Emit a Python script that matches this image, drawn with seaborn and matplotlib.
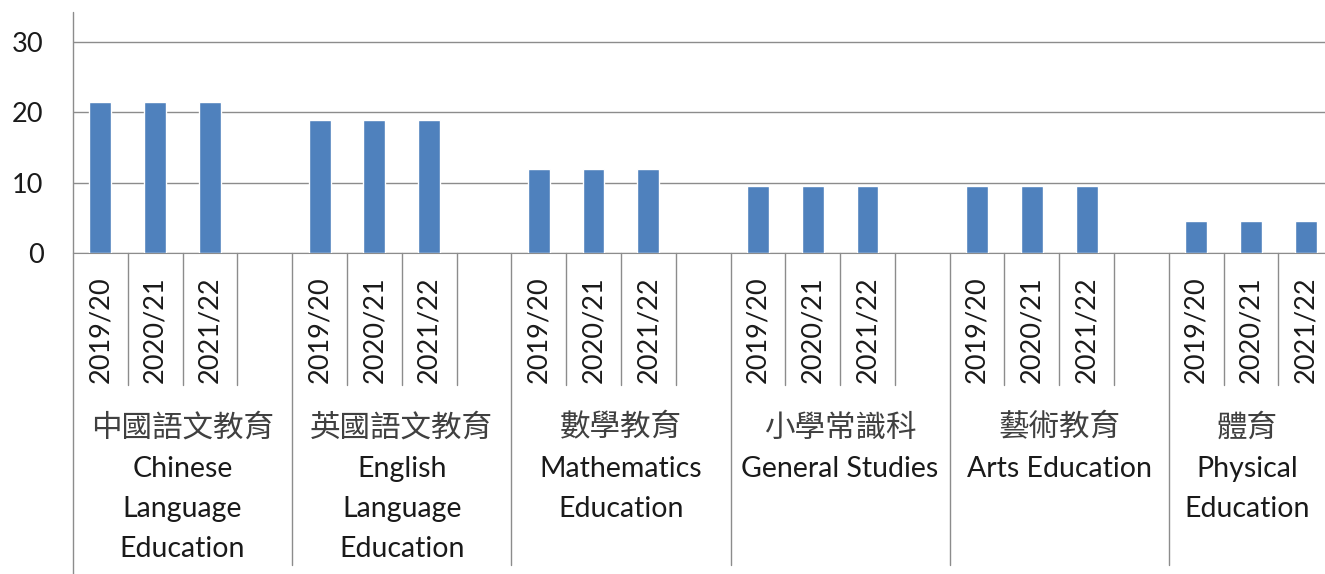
import matplotlib
matplotlib.use("Agg")
import matplotlib.pyplot as plt
from matplotlib.lines import Line2D
import seaborn as sns
import pandas as pd

# ---- data ----
subjects_zh = ["中國語文教育", "英國語文教育", "數學教育", "小學常識科", "藝術教育", "體育"]
subjects_en = ["Chinese\nLanguage\nEducation", "English\nLanguage\nEducation",
               "Mathematics\nEducation", "General Studies", "Arts Education",
               "Physical\nEducation"]
years = ["2019/20", "2020/21", "2021/22"]
values_2019_20 = [21.5, 19.0, 12.0, 9.5, 9.5, 4.6]
values_2020_21 = [21.5, 19.0, 12.0, 9.5, 9.5, 4.6]
values_2021_22 = [21.5, 19.0, 12.0, 9.5, 9.5, 4.6]
y_ticks = [0, 10, 20, 30]

series = [values_2019_20, values_2020_21, values_2021_22]
SLOTS = 4  # three years + one empty slot per group (Excel-style gap)

rows = []
for g, zh in enumerate(subjects_zh):
    for k, yr in enumerate(years):
        rows.append({"subject": zh, "year": yr, "pos": g * SLOTS + k, "value": series[k][g]})
df = pd.DataFrame(rows)

sns.set_style("white")
plt.rcParams["font.family"] = ["Lato", "DejaVu Sans"]

W, H = 1325, 574
fig = plt.figure(figsize=(W / 100, H / 100), dpi=100)
ax_left, ax_bottom_px, ax_top_px = 73, 253, 12
ax_h_px = ax_bottom_px - ax_top_px
ax = fig.add_axes([ax_left / W, (H - ax_bottom_px) / H, 1 - ax_left / W, ax_h_px / H])

sns.barplot(data=df, x="pos", y="value", native_scale=True, width=0.4,
            color="#4F81BD", saturation=1, errorbar=None, ax=ax, zorder=3)

XMAX = 22.35
ax.set_xlim(-0.5, XMAX)
ax.set_ylim(0, 34.3)
ax.set_xticks([])
ax.set_xlabel("")
ax.set_ylabel("")
ax.set_yticks(y_ticks)
ax.set_yticklabels([str(t) for t in y_ticks])

grid_c = "#8c8c8c"
ax.yaxis.grid(True, color=grid_c, lw=1.0, zorder=0)
ax.set_axisbelow(True)
ax.tick_params(axis="y", length=7.2, width=1.0, color=grid_c, pad=14,
               labelsize=19.5, labelcolor="#1a1a1a")
for s in ["top", "right", "left"]:
    ax.spines[s].set_visible(False)
ax.spines["bottom"].set_color(grid_c)

def fy(px):
    return -px / ax_h_px

# left axis line extending down through the label area
ax.add_line(Line2D([0, 0], [1, fy(H - ax_bottom_px)], transform=ax.transAxes,
                   color=grid_c, lw=1.0, clip_on=False))

xt = ax.get_xaxis_transform()
n = len(subjects_zh)
for g in range(n):
    base = g * SLOTS
    for k in range(SLOTS - 1):
        ax.add_line(Line2D([base + k + 0.5] * 2, [0, fy(132)], transform=xt,
                           color=grid_c, lw=1.0, clip_on=False))
    ax.add_line(Line2D([base + SLOTS - 0.5] * 2, [0, fy(312)], transform=xt,
                       color=grid_c, lw=1.0, clip_on=False))
    for k, yr in enumerate(years):
        ax.annotate(yr, xy=(base + k, 0), xycoords=xt, xytext=(0, -77),
                    textcoords="offset pixels", rotation=90, ha="center", va="center",
                    fontsize=19.5, color="#1a1a1a", annotation_clip=False)
    # centre the group label on the visible part of the group
    g_lo = base - 0.5
    g_hi = min(base + SLOTS - 0.5, XMAX)
    cx = (g_lo + g_hi) / 2
    ax.annotate(subjects_zh[g], xy=(cx, 0), xycoords=xt, xytext=(0, -175),
                textcoords="offset pixels", ha="center", va="center",
                fontsize=22, color="#404040", fontweight="light",
                family=["Noto Sans CJK TC", "DejaVu Sans"], annotation_clip=False)
    for j, line in enumerate(subjects_en[g].split("\n")):
        ax.annotate(line, xy=(cx, 0), xycoords=xt, xytext=(0, -216 - 40 * j),
                    textcoords="offset pixels", ha="center", va="center",
                    fontsize=20.5, color="#1a1a1a", annotation_clip=False)

fig.savefig("out.png", dpi=100)
